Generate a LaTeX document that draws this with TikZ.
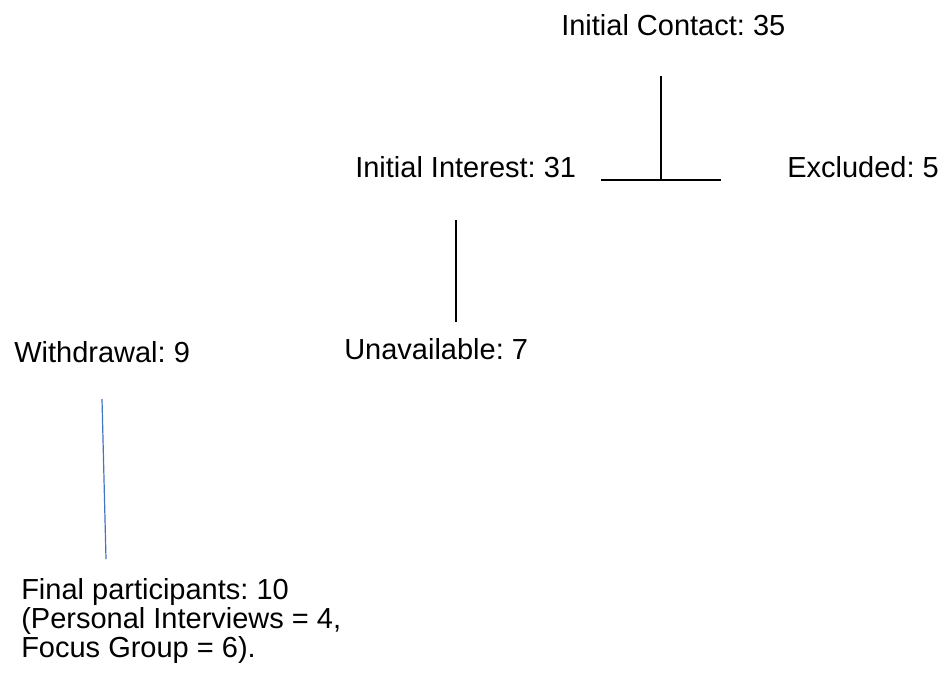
\documentclass[tikz,border=0pt]{standalone}
\usepackage{fontspec}
\setmainfont{Liberation Sans}
\frenchspacing
\definecolor{officeblue}{RGB}{68,114,196}
\tikzstyle{lbl}=[anchor=base west, inner sep=0pt, font=\fontsize{21.75}{22.2}\selectfont]
\tikzstyle{multi}=[anchor=base west, inner sep=0pt, align=left, font=\fontsize{21.75}{21.4}\selectfont]
\tikzstyle{stem}=[-, line width=1.1pt, draw=black]
\tikzstyle{bluestem}=[-, line width=0.9pt, draw=officeblue]
\begin{document}
\begin{tikzpicture}[x=0.75pt, y=-0.75pt]
			\useasboundingbox (0,0) rectangle (944,686);

			%The labels
			\draw (561,35) node[lbl] (contact) {Initial Contact: 35};
			\draw (355,177) node[lbl] (interest) {Initial Interest: 31};
			\draw (787,177) node[lbl] (excluded) {Excluded: 5};
			\draw (344,359) node[lbl] (unavail) {Unavailable: 7};
			\draw (14,362) node[lbl] (withdraw) {Withdrawal: 9};
			\draw (21,657) node[multi] (final) {Final participants: 10\\(Personal Interviews = 4,\\Focus Group = 6).};

			%The line ends
			\coordinate (c-top) at (661,76);
			\coordinate (c-split) at (661,180);
			\coordinate (c-left) at (601,180);
			\coordinate (c-right) at (721,180);
			\coordinate (i-top) at (456,220);
			\coordinate (i-bot) at (456,322);
			\coordinate (w-top) at (102,399);
			\coordinate (w-bot) at (106,559);

			%The connectors
			\draw[stem] (c-top) -- (c-split);
			\draw[stem] (c-left) -- (c-right);
			\draw[stem] (i-top) -- (i-bot);
			\draw[bluestem] (w-top) -- (w-bot);
		\end{tikzpicture}
\end{document}
